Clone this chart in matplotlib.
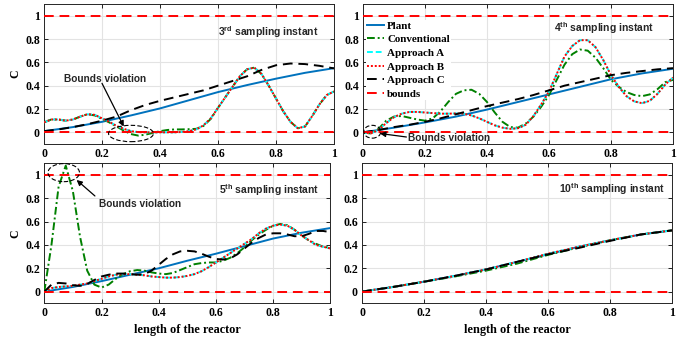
import numpy as np
import matplotlib
matplotlib.use("Agg")
import matplotlib.pyplot as plt
from matplotlib.patches import Ellipse

plt.rcParams['mathtext.fontset'] = 'custom'
plt.rcParams['mathtext.bf'] = 'Liberation Sans:bold'
plt.rcParams['mathtext.rm'] = 'Liberation Sans:bold'

# ---------------- data ----------------
x41 = np.linspace(0, 1, 41)
x21 = np.linspace(0, 1, 21)
x11 = np.linspace(0, 1, 11)

# 3rd sampling instant
p1_plant = [0.01, 0.045, 0.09, 0.145, 0.205, 0.275, 0.345, 0.405, 0.46, 0.51, 0.55]
p1_conv = [0.085, 0.11, 0.11, 0.10, 0.11, 0.135, 0.155, 0.145, 0.115, 0.085, 0.05,
           0.015, -0.015, -0.028, -0.02, -0.005, 0.01, 0.02, 0.025, 0.025, 0.027,
           0.03, 0.055, 0.115, 0.21, 0.30, 0.39, 0.48, 0.54, 0.555, 0.50, 0.40,
           0.29, 0.18, 0.09, 0.035, 0.05, 0.14, 0.24, 0.32, 0.35]
p1_appA = [0.085, 0.11, 0.11, 0.10, 0.11, 0.135, 0.155, 0.15, 0.12, 0.09, 0.055,
           0.03, 0.01, 0.002, 0.0, 0.0, 0.0, 0.0, 0.0, 0.003, 0.01,
           0.025, 0.06, 0.12, 0.21, 0.30, 0.39, 0.48, 0.54, 0.555, 0.50, 0.40,
           0.29, 0.18, 0.09, 0.035, 0.05, 0.14, 0.24, 0.32, 0.35]
p1_appB = [0.085, 0.11, 0.11, 0.10, 0.11, 0.135, 0.155, 0.15, 0.12, 0.09, 0.055,
           0.03, 0.01, 0.002, 0.0, 0.0, 0.0, 0.0, 0.0, 0.003, 0.01,
           0.025, 0.06, 0.12, 0.21, 0.30, 0.39, 0.48, 0.54, 0.555, 0.50, 0.40,
           0.29, 0.18, 0.09, 0.035, 0.05, 0.14, 0.24, 0.32, 0.35]
p1_appC = [0.01, 0.025, 0.045, 0.07, 0.10, 0.135, 0.19, 0.235, 0.27, 0.30, 0.33,
           0.36, 0.40, 0.44, 0.48, 0.535, 0.575, 0.59, 0.585, 0.57, 0.548]

# 4th sampling instant
p2_plant = [0.0, 0.04, 0.085, 0.135, 0.195, 0.26, 0.325, 0.39, 0.455, 0.505, 0.545]
p2_conv = [0.0, -0.01, 0.03, 0.10, 0.135, 0.14, 0.125, 0.11, 0.10, 0.12, 0.18,
           0.26, 0.33, 0.36, 0.365, 0.33, 0.26, 0.17, 0.09, 0.045, 0.04,
           0.075, 0.135, 0.22, 0.32, 0.45, 0.58, 0.67, 0.71, 0.70, 0.64, 0.55,
           0.45, 0.39, 0.345, 0.32, 0.31, 0.325, 0.37, 0.43, 0.45]
p2_appA = [0.0, -0.01, 0.02, 0.08, 0.13, 0.16, 0.175, 0.175, 0.17, 0.165, 0.16,
           0.16, 0.162, 0.16, 0.145, 0.12, 0.09, 0.06, 0.04, 0.03, 0.035,
           0.065, 0.14, 0.24, 0.35, 0.50, 0.65, 0.74, 0.79, 0.79, 0.73, 0.62,
           0.49, 0.39, 0.31, 0.265, 0.25, 0.27, 0.33, 0.41, 0.47]
p2_appB = [0.0, -0.01, 0.02, 0.08, 0.13, 0.16, 0.175, 0.175, 0.17, 0.165, 0.16,
           0.16, 0.162, 0.16, 0.145, 0.12, 0.09, 0.06, 0.04, 0.03, 0.035,
           0.065, 0.14, 0.24, 0.35, 0.50, 0.65, 0.74, 0.79, 0.79, 0.73, 0.62,
           0.49, 0.39, 0.31, 0.265, 0.25, 0.27, 0.33, 0.41, 0.47]
p2_appC = [0.0, 0.02, 0.045, 0.065, 0.09, 0.12, 0.155, 0.19, 0.225, 0.255, 0.285,
           0.32, 0.36, 0.40, 0.43, 0.46, 0.49, 0.51, 0.525, 0.54, 0.55]

# 5th sampling instant
p3_plant = [0.0, 0.04, 0.09, 0.145, 0.20, 0.265, 0.325, 0.39, 0.455, 0.505, 0.545]
p3_conv = [0.0, 0.40, 0.90, 1.08, 0.86, 0.47, 0.18, 0.06, 0.035, 0.06, 0.11,
           0.15, 0.175, 0.185, 0.18, 0.165, 0.155, 0.15, 0.16, 0.185, 0.21,
           0.235, 0.245, 0.25, 0.25, 0.265, 0.29, 0.33, 0.38, 0.44, 0.49, 0.53,
           0.565, 0.58, 0.57, 0.53, 0.48, 0.44, 0.41, 0.385, 0.375]
p3_appA = [0.0, 0.03, 0.04, 0.045, 0.05, 0.06, 0.07, 0.09, 0.11, 0.13, 0.145,
           0.15, 0.15, 0.145, 0.14, 0.13, 0.125, 0.12, 0.12, 0.125, 0.135,
           0.15, 0.175, 0.21, 0.25, 0.29, 0.33, 0.37, 0.41, 0.45, 0.50, 0.54,
           0.565, 0.575, 0.565, 0.53, 0.48, 0.44, 0.40, 0.385, 0.37]
p3_appB = [0.0, 0.03, 0.04, 0.045, 0.05, 0.06, 0.07, 0.09, 0.11, 0.13, 0.145,
           0.15, 0.15, 0.145, 0.14, 0.13, 0.125, 0.12, 0.12, 0.125, 0.135,
           0.15, 0.175, 0.21, 0.25, 0.29, 0.33, 0.37, 0.41, 0.45, 0.50, 0.54,
           0.565, 0.575, 0.565, 0.53, 0.48, 0.44, 0.40, 0.385, 0.37]
p3_appC = [0.0, 0.06, 0.075, 0.07, 0.055, 0.05, 0.065, 0.10, 0.13, 0.145, 0.155,
           0.155, 0.15, 0.145, 0.15, 0.18, 0.23, 0.28, 0.32, 0.345, 0.35,
           0.345, 0.325, 0.30, 0.28, 0.275, 0.285, 0.32, 0.37, 0.42, 0.46, 0.49,
           0.50, 0.50, 0.49, 0.475, 0.475, 0.495, 0.52, 0.52, 0.51]

# 10th sampling instant
p4_plant = [0.0, 0.04, 0.085, 0.135, 0.19, 0.255, 0.32, 0.385, 0.44, 0.49, 0.525]
p4_conv = [0.0, 0.04, 0.085, 0.13, 0.18, 0.24, 0.315, 0.38, 0.44, 0.49, 0.525]
p4_appA = [0.0, 0.04, 0.085, 0.135, 0.19, 0.255, 0.325, 0.385, 0.44, 0.49, 0.525]
p4_appB = [0.0, 0.04, 0.085, 0.135, 0.19, 0.255, 0.325, 0.385, 0.44, 0.49, 0.525]
p4_appC = [0.0, 0.04, 0.085, 0.135, 0.19, 0.255, 0.32, 0.375, 0.435, 0.49, 0.525]

lower_bound = [0.0, 0.0]
upper_bound = [1.0, 1.0]
bound_x = [0.0, 1.0]

xticks = [0, 0.2, 0.4, 0.6, 0.8, 1]
xticklabels = ['0', '0.2', '0.4', '0.6', '0.8', '1']
yticks = [0, 0.2, 0.4, 0.6, 0.8, 1]
yticklabels = ['0', '0.2', '0.4', '0.6', '0.8', '1']

titles = [r'3$^{\mathbf{rd}}$ sampling instant', r'4$^{\mathbf{th}}$ sampling instant',
          r'5$^{\mathbf{th}}$ sampling instant', r'10$^{\mathbf{th}}$ sampling instant']

panels = [
    (x11, p1_plant, x41, p1_conv, x41, p1_appA, x41, p1_appB, x21, p1_appC),
    (x11, p2_plant, x41, p2_conv, x41, p2_appA, x41, p2_appB, x21, p2_appC),
    (x11, p3_plant, x41, p3_conv, x41, p3_appA, x41, p3_appB, x41, p3_appC),
    (x11, p4_plant, x11, p4_conv, x11, p4_appA, x11, p4_appB, x11, p4_appC),
]

# ---------------- styling ----------------
SERIF = 'Liberation Serif'
SANS = 'Liberation Sans'
c_plant = '#0072BD'
c_conv = '#008000'
c_a = '#00FFFF'
c_b = '#FF0000'
c_c = '#000000'
c_bound = '#FF0000'

fig = plt.figure(figsize=(6.92, 3.38), dpi=100)
rects = [
    (44 / 692, 1 - 144 / 338, 290 / 692, 140 / 338),
    (363 / 692, 1 - 144 / 338, 310 / 692, 140 / 338),
    (44.3 / 692, 1 - 303.3 / 338, 286 / 692, 140 / 338),
    (362 / 692, 1 - 303.3 / 338, 310 / 692, 140 / 338),
]
title_pos = [(0.60, 0.86), (0.617, 0.89), (0.61, 0.87), (0.635, 0.88)]

axes = []
for i, r in enumerate(rects):
    ax = fig.add_axes(r)
    axes.append(ax)
    (xp, yp, xc, yc, xa, ya, xb, yb, xcc, ycc) = panels[i]
    ax.plot(xp, yp, color=c_plant, lw=1.4, label='Plant', zorder=3)
    ax.plot(xc, yc, color=c_conv, lw=1.4, ls=(0, (4, 1.5, 1, 1.5)), label='Conventional', zorder=4)
    ax.plot(xa, ya, color=c_a, lw=1.4, ls=(0, (3, 1.5)), label='Approach A', zorder=5)
    ax.plot(xb, yb, color=c_b, lw=1.4, ls=(0, (1, 1)), label='Approach B', zorder=6)
    ax.plot(xcc, ycc, color=c_c, lw=1.4, ls=(0, (5, 3)), label='Approach C', zorder=7)
    ax.plot(bound_x, upper_bound, color=c_bound, lw=1.4, ls=(0, (5, 3)), label='bounds', zorder=8)
    ax.plot(bound_x, lower_bound, color=c_bound, lw=1.4, ls=(0, (5, 3)), zorder=8)
    ax.set_xlim(0, 1)
    ax.set_ylim(-0.1, 1.1)
    ax.set_xticks(xticks)
    ax.set_xticklabels(xticklabels)
    ax.set_yticks(yticks)
    ax.set_yticklabels(yticklabels)
    ax.grid(True, color='#e3e3e3', lw=0.8)
    ax.set_axisbelow(True)
    ax.tick_params(direction='in', length=3, width=0.6, top=True, right=True,
                   labelsize=8.5, pad=3)
    for lab in ax.get_xticklabels() + ax.get_yticklabels():
        lab.set_fontfamily(SERIF)
        lab.set_fontweight('bold')
    for s in ax.spines.values():
        s.set_linewidth(0.7)
        s.set_color('#262626')
    tx, ty = title_pos[i]
    ax.text(tx, ty, titles[i], transform=ax.transData, fontsize=7.5, fontweight='bold',
            family=SANS, color='#262626', va='center', ha='left', zorder=10)

for ax in (axes[0], axes[2]):
    ax.set_ylabel('C', family=SERIF, fontweight='bold', fontsize=8.5, labelpad=3)
for ax in (axes[2], axes[3]):
    ax.set_xlabel('length of the reactor', family=SERIF, fontweight='bold', fontsize=8.8, labelpad=3)

# legend on the 4th-sampling panel
leg = axes[1].legend(loc='upper left', bbox_to_anchor=(0.0, 0.91), frameon=True,
                     prop={'family': SERIF, 'weight': 'bold', 'size': 7.9},
                     handlelength=1.5, handletextpad=0.3, labelspacing=0.36,
                     borderaxespad=0.3, borderpad=0.1)
leg.get_frame().set_edgecolor('none')
leg.get_frame().set_facecolor('white')
leg.get_frame().set_alpha(1)
leg.set_zorder(20)

# annotations
arrow = dict(arrowstyle='-|>', color='black', lw=0.9, mutation_scale=8, shrinkA=0, shrinkB=0)
ann_font = dict(fontsize=7.3, fontweight='bold', family=SANS, color='#262626')

ax = axes[0]
ax.add_patch(Ellipse((0.30, -0.01), 0.155, 0.14, fill=False, ls=(0, (4, 2)), lw=0.8,
                     color='black', zorder=9))
ax.text(0.21, 0.46, 'Bounds violation', ha='center', va='center', zorder=10, **ann_font)
ax.annotate('', xy=(0.275, 0.05), xytext=(0.20, 0.42), arrowprops=arrow, zorder=10)

ax = axes[1]
ax.add_patch(Ellipse((0.03, 0.005), 0.055, 0.11, fill=False, ls=(0, (4, 2)), lw=0.8,
                     color='black', zorder=9))
ax.text(0.145, -0.05, 'Bounds violation', ha='left', va='center', zorder=10, **ann_font)
ax.annotate('', xy=(0.055, -0.01), xytext=(0.14, -0.04), arrowprops=arrow, zorder=10)

ax = axes[2]
ax.add_patch(Ellipse((0.068, 1.02), 0.11, 0.155, fill=False, ls=(0, (4, 2)), lw=0.8,
                     color='black', zorder=9, clip_on=False))
ax.text(0.19, 0.755, 'Bounds violation', ha='left', va='center', zorder=10, **ann_font)
ax.annotate('', xy=(0.113, 0.957), xytext=(0.177, 0.82), arrowprops=arrow, zorder=10)

fig.savefig('out.png', dpi=100)
